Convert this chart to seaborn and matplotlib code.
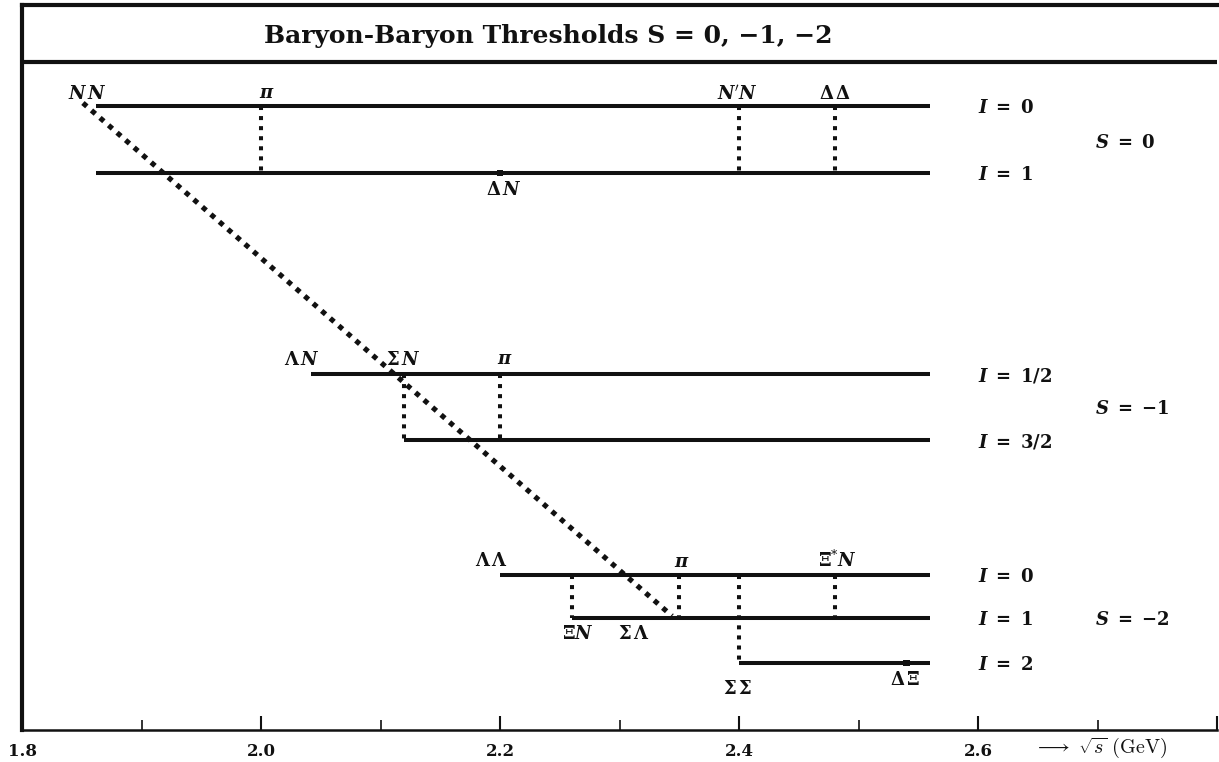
import numpy as np
import pandas as pd
import matplotlib
matplotlib.use("Agg")
import matplotlib.pyplot as plt
import seaborn as sns
from matplotlib.transforms import blended_transform_factory

sns.set_theme(style="white")
plt.rcParams["font.family"] = ["DejaVu Serif"]
plt.rcParams["lines.solid_capstyle"] = "butt"
plt.rcParams["lines.dash_capstyle"] = "butt"

# --- thresholds (sqrt(s) in GeV) -------------------------------------------
level_names = ["S0_I0", "S0_I1", "S1_I1/2", "S1_I3/2", "S2_I0", "S2_I1", "S2_I2"]
level_start = [1.862, 1.862, 2.042, 2.120, 2.200, 2.260, 2.400]
level_end = [2.56, 2.56, 2.56, 2.56, 2.56, 2.56, 2.56]
iso_text = ["0", "1", "1/2", "3/2", "0", "1", "2"]

sector_text = ["0", "-1", "-2"]

# vertical dotted links between isospin channels
link_x = [2.00, 2.40, 2.48, 2.12, 2.20, 2.26, 2.35, 2.40, 2.48]
link_from = [0, 0, 0, 2, 2, 4, 4, 4, 4]
link_to = [1, 1, 1, 3, 3, 5, 5, 6, 5]

# small markers on a channel
dot_x = [2.20, 2.54]
dot_level = [1, 6]

# dotted guide running across the sectors
diag_x = [1.851, 2.344]

# threshold names and the energy they sit at
thr_text = [r"$\mathbfit{N\,N}$", r"$\mathbfit{\pi}$",
            r"$\mathbfit{N}^{\prime}\mathbfit{N}$",
            r"$\mathbf{\Delta\,\Delta}$", r"$\mathbf{\Delta}\,\mathbfit{N}$",
            r"$\mathbf{\Lambda}\,\mathbfit{N}$", r"$\mathbf{\Sigma}\,\mathbfit{N}$",
            r"$\mathbfit{\pi}$", r"$\mathbf{\Lambda\,\Lambda}$", r"$\mathbfit{\pi}$",
            r"$\mathbf{\Xi}^{*}\mathbfit{N}$", r"$\mathbf{\Xi}\mathbfit{N}$",
            r"$\mathbf{\Sigma\,\Lambda}$", r"$\mathbf{\Sigma\,\Sigma}$",
            r"$\mathbf{\Delta\,\Xi}$"]
thr_x = [1.855, 2.005, 2.398, 2.480, 2.203, 2.034, 2.119, 2.204, 2.193,
         2.352, 2.482, 2.265, 2.312, 2.399, 2.539]

# --- layout -----------------------------------------------------------------
row_y = [106, 173, 374, 440, 575, 618, 663]
sector_y = [143, 409, 620]
thr_y = [94, 93, 94, 94, 190, 360, 360, 359, 561, 562, 560, 634, 634, 689, 680]
diag_y = [103, 616]
INK = "#111111"

fig = plt.figure(figsize=(12.19, 7.62), dpi=100)
ax = fig.add_axes([22 / 1219, 32 / 762, 1195 / 1219, 725 / 762])

# horizontal channel lines
df_levels = pd.DataFrame({
    "level": level_names * 2,
    "x": level_start + level_end,
    "y": row_y * 2,
})
sns.lineplot(data=df_levels, x="x", y="y", units="level", estimator=None,
             color=INK, lw=2.9, legend=False, ax=ax)

# dotted links
df_links = pd.DataFrame({
    "link": list(range(len(link_x))) * 2,
    "x": link_x * 2,
    "y": [row_y[i] for i in link_from] + [row_y[i] for i in link_to],
})
sns.lineplot(data=df_links, x="x", y="y", units="link", estimator=None,
             sort=False, orient="y", color=INK, lw=2.9,
             linestyle=(0, (1, 1.5)), legend=False, ax=ax)

# diagonal guide
df_diag = pd.DataFrame({"x": diag_x, "y": diag_y})
sns.lineplot(data=df_diag, x="x", y="y", estimator=None, sort=False,
             color=INK, lw=3.7, linestyle=(0, (1, 1.2)), ax=ax)

# markers
df_dots = pd.DataFrame({"x": dot_x, "y": [row_y[i] for i in dot_level]})
sns.scatterplot(data=df_dots, x="x", y="y", marker="s", s=24, color=INK,
                edgecolor="none", ax=ax, legend=False)

# threshold names
for t, x, y in zip(thr_text, thr_x, thr_y):
    ax.text(x, y, t, ha="center", va="center", fontsize=13,
            math_fontfamily="dejavuserif", color=INK)

# isospin labels
for t, y in zip(iso_text, row_y):
    ax.text(2.600, y + 2, r"$\mathbfit{I}\ \mathbf{=}\ \mathbf{%s}$" % t,
            ha="left", va="center", fontsize=13,
            math_fontfamily="dejavuserif", color=INK)

# strangeness labels
for t, y in zip(sector_text, sector_y):
    ax.text(2.698, y, r"$\mathbfit{S}\ \mathbf{=}\ \mathbf{%s}$" % t,
            ha="left", va="center", fontsize=13,
            math_fontfamily="dejavuserif", color=INK)

# title box
ax.axhline(62, color=INK, lw=3.0)
ax.text(2.240, 36, "Baryon-Baryon Thresholds S = 0, \u22121, \u22122",
        ha="center", va="center", fontsize=18, fontweight="bold",
        family="DejaVu Serif", color=INK)

# axes
ax.set_xlim(1.8, 2.8)
ax.set_ylim(730, 5)
ax.set_xlabel("")
ax.set_ylabel("")
ax.set_yticks([])
major = [1.8, 2.0, 2.2, 2.4, 2.6, 2.8]
major_lbl = ["1.8", "2.0", "2.2", "2.4", "2.6", ""]
ax.set_xticks(major, major_lbl)
ax.set_xticks([1.9, 2.1, 2.3, 2.5, 2.7], minor=True)
for lbl in ax.get_xticklabels():
    lbl.set_fontweight("bold")
    lbl.set_fontsize(12)
    lbl.set_family("DejaVu Serif")
    lbl.set_color(INK)
ax.tick_params(axis="x", which="major", direction="in", length=10, width=1.5,
               color=INK, pad=9, bottom=True)
ax.tick_params(axis="x", which="minor", direction="in", length=7, width=1.2,
               color=INK, bottom=True)

trans = blended_transform_factory(ax.transData, ax.transAxes)
ax.text(2.647, -0.025, r"$\longrightarrow\ \sqrt{s}\ \mathrm{(GeV)}$",
        transform=trans, ha="left", va="center", fontsize=14.5,
        math_fontfamily="cm", color=INK)

for side in ["left", "top", "bottom", "right"]:
    ax.spines[side].set_color(INK)
ax.spines["left"].set_linewidth(3.0)
ax.spines["top"].set_linewidth(3.0)
ax.spines["bottom"].set_linewidth(1.8)
ax.spines["right"].set_visible(False)
ax.grid(False)

fig.savefig("out.png", dpi=100, facecolor="white")
